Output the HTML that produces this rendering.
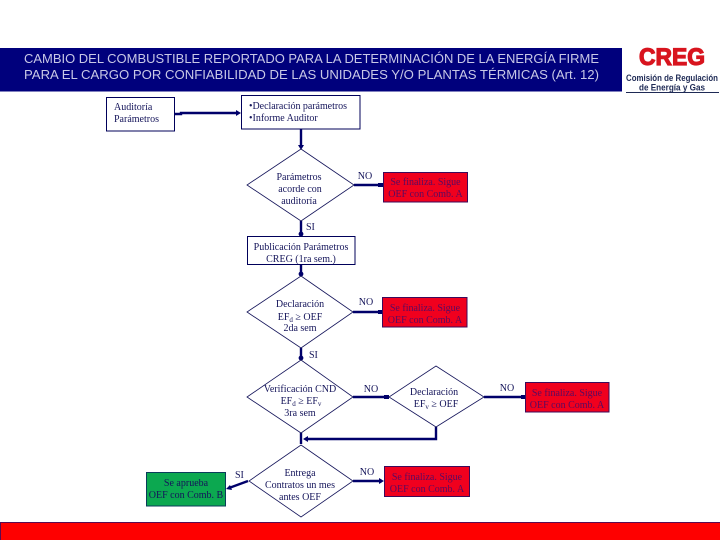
<!DOCTYPE html>
<html lang="es">
<head>
<meta charset="utf-8">
<title>Cambio del combustible reportado</title>
<style>
html,body{margin:0;padding:0;background:#fff;width:720px;height:540px;overflow:hidden}
svg{display:block}
.t{font-family:"Liberation Serif",serif;font-size:10px;fill:#14145a;text-anchor:middle}
.l{font-family:"Liberation Serif",serif;font-size:10px;fill:#14145a}
.r{font-family:"Liberation Serif",serif;font-size:10px;fill:#5a0a60;text-anchor:middle}
.h{font-family:"Liberation Sans",sans-serif;font-size:13px;fill:#c8c8e6}
.box{fill:#fff;stroke:#00005a;stroke-width:1}
.red{fill:#f0001e;stroke:#3c0a5a;stroke-width:1}
.c{fill:none;stroke:#00006a;stroke-width:2.4}
.d{fill:#00006a}
.dm{fill:#fff;stroke:#14145a;stroke-width:.8}
</style>
</head>
<body>
<svg width="720" height="540" viewBox="0 0 720 540" xmlns="http://www.w3.org/2000/svg">
<rect width="720" height="540" fill="#fff"/>

<!-- Header -->
<rect x="0" y="48" width="622" height="43.5" fill="#00007c"/>
<text class="h" x="24" y="63" textLength="575" lengthAdjust="spacingAndGlyphs">CAMBIO DEL COMBUSTIBLE REPORTADO PARA LA DETERMINACIÓN DE LA ENERGÍA FIRME</text>
<text class="h" x="24" y="79" textLength="575" lengthAdjust="spacingAndGlyphs">PARA EL CARGO POR CONFIABILIDAD DE LAS UNIDADES Y/O PLANTAS TÉRMICAS (Art. 12)</text>

<!-- Logo -->
<text x="639" y="65" font-family="Liberation Sans, sans-serif" font-weight="bold" font-size="24" fill="#d8141e" stroke="#d8141e" stroke-width="1.2" textLength="66" lengthAdjust="spacingAndGlyphs">CREG</text>
<text x="672" y="81" text-anchor="middle" font-family="Liberation Sans, sans-serif" font-weight="bold" font-size="9" fill="#1e2a55" textLength="92" lengthAdjust="spacingAndGlyphs">Comisión de Regulación</text>
<text x="672" y="90.500" text-anchor="middle" font-family="Liberation Sans, sans-serif" font-weight="bold" font-size="9" fill="#1e2a55" textLength="66" lengthAdjust="spacingAndGlyphs">de Energía y Gas</text>
<line x1="626" y1="92.500" x2="719" y2="92.500" stroke="#1e2a55" stroke-width="1"/>

<!-- Connectors -->
<path class="c" d="M175 114H181V113H238"/>
<path class="d" d="M241 113l-5-3v6z"/>
<path class="c" d="M301 129V147"/>
<path class="d" d="M301 150l-3-5h6z"/>
<path class="c" d="M354 185H380"/>
<rect class="d" x="378" y="183" width="5" height="4"/>
<path class="c" d="M301 221V234"/>
<circle class="d" cx="301" cy="234" r="2.4"/>
<path class="c" d="M301 264V274"/>
<circle class="d" cx="301" cy="274" r="2.4"/>
<path class="c" d="M353 312H380"/>
<rect class="d" x="378" y="310" width="4" height="4"/>
<path class="c" d="M301 348V358"/>
<circle class="d" cx="301" cy="358" r="2.4"/>
<path class="c" d="M353 397H387"/>
<rect class="d" x="384" y="395" width="5" height="4"/>
<path class="c" d="M484 397H523"/>
<rect class="d" x="521" y="395" width="4" height="4"/>
<path class="c" d="M301 432V444"/>
<path class="c" d="M436 427V439H306"/>
<path class="d" d="M303 439l5-3v6z"/>
<path class="c" d="M353 481H382"/>
<path class="d" d="M384 481l-5-3v6z"/>
<path class="c" d="M248 481L229 488"/>
<path class="d" d="M226 489l4-4 2 5z"/>

<!-- Boxes -->
<rect class="box" x="106.500" y="97.500" width="68" height="33.500"/>
<text class="l" x="114" y="110">Auditoría</text>
<text class="l" x="114" y="122">Parámetros</text>

<rect class="box" x="241.500" y="95.500" width="118.500" height="33.500"/>
<text class="l" x="249" y="109" textLength="98" lengthAdjust="spacing">•Declaración parámetros</text>
<text class="l" x="249" y="121">•Informe Auditor</text>

<!-- Diamond 1 -->
<polygon class="dm" points="301,149 354,185 301,221 247,185"/>
<text class="t" x="299" y="180">Parámetros</text>
<text class="t" x="300" y="192">acorde con</text>
<text class="t" x="299" y="204">auditoría</text>
<text class="t" x="365" y="179">NO</text>
<rect class="red" x="383.500" y="172.500" width="84" height="29.500"/>
<text class="r" x="425.500" y="185">Se finaliza. Sigue</text>
<text class="r" x="425.500" y="197">OEF con Comb. A</text>
<text class="l" x="306" y="230">SI</text>

<!-- Publication -->
<rect class="box" x="247.500" y="236.500" width="107.500" height="28"/>
<text class="t" x="301" y="250">Publicación Parámetros</text>
<text class="t" x="301" y="262">CREG (1ra sem.)</text>

<!-- Diamond 2 -->
<polygon class="dm" points="301,276 353,312 301,348 247,312"/>
<text class="t" x="300" y="307">Declaración</text>
<text class="t" x="300" y="320">EF<tspan font-size="7" dy="2">d</tspan><tspan dy="-2"> ≥ OEF</tspan></text>
<text class="t" x="300" y="331">2da sem</text>
<text class="t" x="366" y="305">NO</text>
<rect class="red" x="382.500" y="297.500" width="84.500" height="29.500"/>
<text class="r" x="425" y="311">Se finaliza. Sigue</text>
<text class="r" x="425" y="323">OEF con Comb. A</text>
<text class="l" x="309" y="358">SI</text>

<!-- Diamond 3 -->
<polygon class="dm" points="301,360 353,397 301,433 247,397"/>
<text class="t" x="300" y="392">Verificación CND</text>
<text class="t" x="301" y="404">EF<tspan font-size="7" dy="2">d</tspan><tspan dy="-2"> ≥ EF</tspan><tspan font-size="7" dy="2">v</tspan></text>
<text class="t" x="300" y="416">3ra sem</text>
<text class="t" x="371" y="392">NO</text>

<!-- Diamond 4 -->
<polygon class="dm" points="436,366 484,397 436,427 389,397"/>
<text class="t" x="434" y="395">Declaración</text>
<text class="t" x="436" y="407">EF<tspan font-size="7" dy="2">v</tspan><tspan dy="-2"> ≥ OEF</tspan></text>
<text class="t" x="507" y="391">NO</text>
<rect class="red" x="525.500" y="382.500" width="83.500" height="29.500"/>
<text class="r" x="567" y="396">Se finaliza. Sigue</text>
<text class="r" x="567" y="408">OEF con Comb. A</text>

<!-- Diamond 5 -->
<polygon class="dm" points="301,445 353,481 301,517 249,481"/>
<text class="t" x="300" y="476">Entrega</text>
<text class="t" x="300" y="488">Contratos un mes</text>
<text class="t" x="300" y="500">antes OEF</text>
<text class="t" x="367" y="475">NO</text>
<rect class="red" x="384.500" y="466.500" width="85" height="30"/>
<text class="r" x="427" y="480">Se finaliza. Sigue</text>
<text class="r" x="427" y="492">OEF con Comb. A</text>
<text class="l" x="235" y="478">SI</text>

<!-- Green -->
<rect x="146.500" y="472.500" width="79" height="33.500" fill="#0ca850" stroke="#0a3c5a" stroke-width="1"/>
<text class="t" x="186" y="486">Se aprueba</text>
<text class="t" x="186" y="498">OEF con Comb. B</text>

<!-- Bottom bar -->
<rect x="0.500" y="522.500" width="720" height="18" fill="#fe0000" stroke="#5a0a50" stroke-width="1"/>
</svg>
</body>
</html>
